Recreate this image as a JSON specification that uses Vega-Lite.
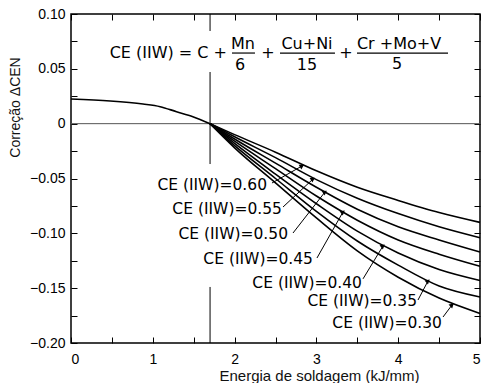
{
  "$schema": "https://vega.github.io/schema/vega-lite/v6.json",
  "width": 409,
  "height": 329,
  "autosize": {"type": "none"},
  "padding": {"left": 71, "top": 14, "right": 2, "bottom": 40},
  "background": "white",
  "config": {
    "view": {"stroke": "black", "strokeWidth": 1.5},
    "font": "Liberation Sans",
    "axis": {"grid": false, "domain": false, "tickColor": "black", "tickWidth": 1, "labelColor": "black", "labelFont": "Liberation Sans", "labelFontSize": 14, "titleColor": "#111", "titleFont": "Liberation Sans", "titleFontWeight": "normal"}
  },
  "datasets": {
    "curves": [
      {"ce": "base", "x": 0, "y": 0.0225},
      {"ce": "base", "x": 0.48, "y": 0.0207},
      {"ce": "base", "x": 0.88, "y": 0.0179},
      {"ce": "base", "x": 1.09, "y": 0.0155},
      {"ce": "base", "x": 1.29, "y": 0.0109},
      {"ce": "base", "x": 1.49, "y": 0.0064},
      {"ce": "base", "x": 1.7, "y": 0},
      {"ce": "0.60", "x": 1.7, "y": 0}, {"ce": "0.60", "x": 2.0, "y": -0.010}, {"ce": "0.60", "x": 2.5, "y": -0.026}, {"ce": "0.60", "x": 3.0, "y": -0.043}, {"ce": "0.60", "x": 3.5, "y": -0.058}, {"ce": "0.60", "x": 4.0, "y": -0.070}, {"ce": "0.60", "x": 4.5, "y": -0.081}, {"ce": "0.60", "x": 5.0, "y": -0.090},
      {"ce": "0.55", "x": 1.7, "y": 0}, {"ce": "0.55", "x": 2.0, "y": -0.012}, {"ce": "0.55", "x": 2.5, "y": -0.031}, {"ce": "0.55", "x": 3.0, "y": -0.051}, {"ce": "0.55", "x": 3.5, "y": -0.068}, {"ce": "0.55", "x": 4.0, "y": -0.082}, {"ce": "0.55", "x": 4.5, "y": -0.094}, {"ce": "0.55", "x": 5.0, "y": -0.104},
      {"ce": "0.50", "x": 1.7, "y": 0}, {"ce": "0.50", "x": 2.0, "y": -0.014}, {"ce": "0.50", "x": 2.5, "y": -0.036}, {"ce": "0.50", "x": 3.0, "y": -0.058}, {"ce": "0.50", "x": 3.5, "y": -0.078}, {"ce": "0.50", "x": 4.0, "y": -0.094}, {"ce": "0.50", "x": 4.5, "y": -0.106}, {"ce": "0.50", "x": 5.0, "y": -0.117},
      {"ce": "0.45", "x": 1.7, "y": 0}, {"ce": "0.45", "x": 2.0, "y": -0.016}, {"ce": "0.45", "x": 2.5, "y": -0.041}, {"ce": "0.45", "x": 3.0, "y": -0.066}, {"ce": "0.45", "x": 3.5, "y": -0.088}, {"ce": "0.45", "x": 4.0, "y": -0.106}, {"ce": "0.45", "x": 4.5, "y": -0.119}, {"ce": "0.45", "x": 5.0, "y": -0.130},
      {"ce": "0.40", "x": 1.7, "y": 0}, {"ce": "0.40", "x": 2.0, "y": -0.018}, {"ce": "0.40", "x": 2.5, "y": -0.046}, {"ce": "0.40", "x": 3.0, "y": -0.073}, {"ce": "0.40", "x": 3.5, "y": -0.098}, {"ce": "0.40", "x": 4.0, "y": -0.118}, {"ce": "0.40", "x": 4.5, "y": -0.133}, {"ce": "0.40", "x": 5.0, "y": -0.143},
      {"ce": "0.35", "x": 1.7, "y": 0}, {"ce": "0.35", "x": 2.0, "y": -0.020}, {"ce": "0.35", "x": 2.5, "y": -0.050}, {"ce": "0.35", "x": 3.0, "y": -0.080}, {"ce": "0.35", "x": 3.5, "y": -0.107}, {"ce": "0.35", "x": 4.0, "y": -0.129}, {"ce": "0.35", "x": 4.5, "y": -0.148}, {"ce": "0.35", "x": 5.0, "y": -0.158},
      {"ce": "0.30", "x": 1.7, "y": 0}, {"ce": "0.30", "x": 2.0, "y": -0.022}, {"ce": "0.30", "x": 2.5, "y": -0.054}, {"ce": "0.30", "x": 3.0, "y": -0.086}, {"ce": "0.30", "x": 3.5, "y": -0.116}, {"ce": "0.30", "x": 4.0, "y": -0.140}, {"ce": "0.30", "x": 4.5, "y": -0.159}, {"ce": "0.30", "x": 5.0, "y": -0.173}
    ],
    "vline": [
      {"x": 1.7, "y": 0.10, "y2": 0.0845},
      {"x": 1.7, "y": 0.0471, "y2": -0.0368},
      {"x": 1.7, "y": -0.1489, "y2": -0.20}
    ],
    "zero": [{"y": 0}],
    "labels": [
      {"ce": "0.60", "x": 2.396, "y": -0.0559, "text": "CE (IIW)=0.60", "x1": 2.457, "y1": -0.0541, "x2": 2.824, "y2": -0.0386},
      {"ce": "0.55", "x": 2.579, "y": -0.0778, "text": "CE (IIW)=0.55", "x1": 2.592, "y1": -0.0760, "x2": 2.958, "y2": -0.0505},
      {"ce": "0.50", "x": 2.653, "y": -0.1006, "text": "CE (IIW)=0.50", "x1": 2.714, "y1": -0.0997, "x2": 3.105, "y2": -0.0623},
      {"ce": "0.45", "x": 2.958, "y": -0.1234, "text": "CE (IIW)=0.45", "x1": 3.007, "y1": -0.1225, "x2": 3.325, "y2": -0.0805},
      {"ce": "0.40", "x": 3.557, "y": -0.1453, "text": "CE (IIW)=0.40", "x1": 3.570, "y1": -0.1415, "x2": 3.814, "y2": -0.1115},
      {"ce": "0.35", "x": 4.230, "y": -0.1617, "text": "CE (IIW)=0.35", "x1": 4.242, "y1": -0.1608, "x2": 4.364, "y2": -0.1435},
      {"ce": "0.30", "x": 4.535, "y": -0.1818, "text": "CE (IIW)=0.30", "x1": 4.548, "y1": -0.1763, "x2": 4.658, "y2": -0.1653}
    ],
    "formulaLeft": [{"x": 1.907, "y": 0.0644, "text": "CE (IIW) = C +"}],
    "formulaParts": [
      {"x": 2.103, "y": 0.0726, "text": "Mn"},
      {"x": 2.066, "y": 0.0535, "text": "6"},
      {"x": 2.408, "y": 0.0644, "text": "+"},
      {"x": 2.885, "y": 0.0726, "text": "Cu+Ni"},
      {"x": 2.885, "y": 0.0535, "text": "15"},
      {"x": 3.362, "y": 0.0644, "text": "+"},
      {"x": 4.010, "y": 0.0726, "text": "Cr +Mo+V"},
      {"x": 3.985, "y": 0.0544, "text": "5"}
    ],
    "bars": [
      {"x": 1.968, "x2": 2.249, "y": 0.0644},
      {"x": 2.555, "x2": 3.227, "y": 0.0644},
      {"x": 3.496, "x2": 4.609, "y": 0.0644}
    ]
  },
  "layer": [
    {
      "data": {"name": "zero"},
      "mark": {"type": "rule", "color": "#555", "strokeWidth": 1},
      "encoding": {
        "y": {"field": "y", "type": "quantitative", "scale": {"domain": [-0.2, 0.1], "nice": false, "zero": false},
          "axis": {"orient": "right", "labels": false, "title": null, "tickSize": -6, "values": [-0.2, -0.175, -0.15, -0.125, -0.1, -0.075, -0.05, -0.025, 0, 0.025, 0.05, 0.075, 0.1]}}
      }
    },
    {
      "data": {"name": "vline"},
      "mark": {"type": "rule", "color": "black", "strokeWidth": 1},
      "encoding": {
        "x": {"field": "x", "type": "quantitative", "scale": {"domain": [0, 5], "nice": false, "zero": false},
          "axis": {"orient": "top", "labels": false, "title": null, "tickSize": -6, "values": [0, 0.5, 1, 1.5, 2, 2.5, 3, 3.5, 4, 4.5, 5]}},
        "y": {"field": "y", "type": "quantitative", "axis": null},
        "y2": {"field": "y2"}
      }
    },
    {
      "data": {"name": "curves"},
      "mark": {"type": "line", "color": "black", "strokeWidth": 1.6, "interpolate": "monotone"},
      "encoding": {
        "x": {"field": "x", "type": "quantitative",
          "axis": {"orient": "bottom", "title": "Energia de soldagem  (kJ/mm)", "titleFontSize": 15, "titleX": 248, "titleY": 32, "titleAlign": "center", "titleBaseline": "middle", "tickSize": -6, "labelPadding": 15, "values": [0, 0.5, 1, 1.5, 2, 2.5, 3, 3.5, 4, 4.5, 5], "labelExpr": "datum.value % 1 === 0 ? format(datum.value, 'd') : ''"}},
        "y": {"field": "y", "type": "quantitative",
          "axis": {"orient": "left", "title": "Correção  ΔCEN", "titleFontSize": 14, "titleX": -56, "titleY": 93, "titleAngle": 270, "titleAlign": "center", "titleBaseline": "middle", "tickSize": -6, "labelPadding": 12, "values": [-0.2, -0.175, -0.15, -0.125, -0.1, -0.075, -0.05, -0.025, 0, 0.025, 0.05, 0.075, 0.1], "labelExpr": "abs(datum.value * 20 - round(datum.value * 20)) < 0.01 ? (abs(datum.value) < 0.001 ? '0' : replace(format(datum.value, '.2f'), '-', '−')) : ''"}},
        "detail": {"field": "ce", "type": "nominal"}
      }
    },
    {
      "data": {"name": "labels"},
      "mark": {"type": "rule", "color": "black", "strokeWidth": 1},
      "encoding": {
        "x": {"field": "x1", "type": "quantitative", "axis": null},
        "y": {"field": "y1", "type": "quantitative", "axis": null},
        "x2": {"field": "x2"},
        "y2": {"field": "y2"}
      }
    },
    {
      "data": {"name": "labels"},
      "mark": {"type": "point", "shape": "triangle-up", "filled": true, "color": "black", "size": 28, "opacity": 1},
      "encoding": {
        "x": {"field": "x2", "type": "quantitative", "axis": null},
        "y": {"field": "y2", "type": "quantitative", "axis": null},
        "angle": {"field": "ce", "type": "ordinal", "scale": {"domain": ["0.60", "0.55", "0.50", "0.45", "0.40", "0.35", "0.30"], "range": [60, 47, 38, 30, 30, 28, 37]}, "legend": null}
      }
    },
    {
      "data": {"name": "labels"},
      "mark": {"type": "text", "align": "right", "baseline": "middle", "font": "DejaVu Sans", "fontSize": 15.5, "color": "black"},
      "encoding": {
        "x": {"field": "x", "type": "quantitative", "axis": null},
        "y": {"field": "y", "type": "quantitative", "axis": null},
        "text": {"field": "text"}
      }
    },
    {
      "data": {"name": "formulaLeft"},
      "mark": {"type": "text", "align": "right", "baseline": "middle", "font": "DejaVu Sans", "fontSize": 16, "color": "black"},
      "encoding": {
        "x": {"field": "x", "type": "quantitative", "axis": null},
        "y": {"field": "y", "type": "quantitative", "axis": null},
        "text": {"field": "text"}
      }
    },
    {
      "data": {"name": "formulaParts"},
      "mark": {"type": "text", "align": "center", "baseline": "middle", "font": "DejaVu Sans", "fontSize": 16, "color": "black"},
      "encoding": {
        "x": {"field": "x", "type": "quantitative", "axis": null},
        "y": {"field": "y", "type": "quantitative", "axis": null},
        "text": {"field": "text"}
      }
    },
    {
      "data": {"name": "bars"},
      "mark": {"type": "rule", "color": "black", "strokeWidth": 1.2},
      "encoding": {
        "x": {"field": "x", "type": "quantitative", "axis": null},
        "x2": {"field": "x2"},
        "y": {"field": "y", "type": "quantitative", "axis": null}
      }
    }
  ],
  "resolve": {"axis": {"x": "independent", "y": "independent"}}
}
